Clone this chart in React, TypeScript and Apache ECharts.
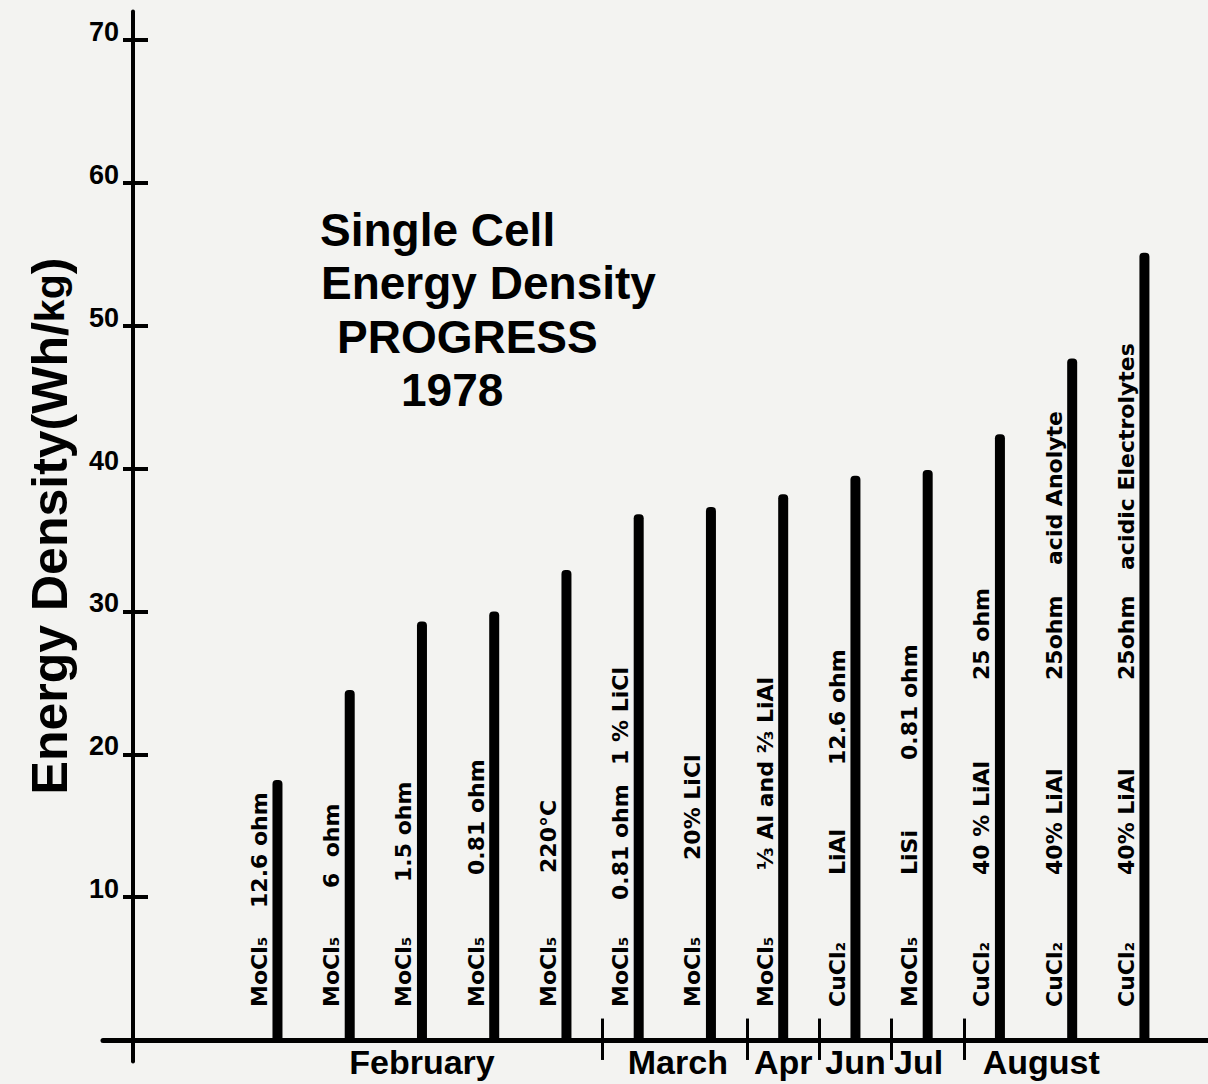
import React, { useEffect, useRef } from 'react';
import * as echarts from 'echarts';

// ---- data ----
const values = [18.2, 24.5, 29.3, 30.0, 32.9, 36.8, 37.3, 38.2, 39.5, 39.9, 42.4, 47.7, 55.1];
const compounds = ['MoCl₅', 'MoCl₅', 'MoCl₅', 'MoCl₅', 'MoCl₅', 'MoCl₅', 'MoCl₅', 'MoCl₅', 'CuCl₂', 'MoCl₅', 'CuCl₂', 'CuCl₂', 'CuCl₂'];
const conditions = ['12.6 ohm', '6  ohm', '1.5 ohm', '0.81 ohm', '220°C', '0.81 ohm', '20% LiCl', '⅓ Al and ⅔ LiAl', 'LiAl', 'LiSi', '40 % LiAl', '40% LiAl', '40% LiAl'];
const details = ['', '', '', '', '', '1 % LiCl', '', '', '12.6 ohm', '0.81 ohm', '25 ohm', '25ohm', '25ohm'];
const extras = ['', '', '', '', '', '', '', '', '', '', '', 'acid Anolyte', 'acidic Electrolytes'];
const months = ['February', 'March', 'Apr', 'Jun', 'Jul', 'August'];
const monthFirstBar = [0, 5, 7, 8, 9, 10];
const monthLastBar = [4, 6, 7, 8, 9, 12];
const yTicks = [10, 20, 30, 40, 50, 60, 70];
const titleLines = ['Single Cell', 'Energy Density', 'PROGRESS', '1978'];

// ---- layout (pixels) ----
const compoundRise = 33;
const conditionRise = [132, 152, 158, 165, 167, 140, 180, 170, 165, 165, 165, 165, 165];
const detailRise = [0, 0, 0, 0, 0, 275, 0, 0, 275, 280, 360, 360, 360];
const extraRise = [0, 0, 0, 0, 0, 0, 0, 0, 0, 0, 0, 475, 470];
const monthNudge = [0, 3, 0, 0, -9, -31];
const titleX = [320, 321, 337, 401];
const titleTop = [207, 260, 314, 367];

const barFont = '"DejaVu Sans", sans-serif';
const mainFont = '"Liberation Sans", Arial, sans-serif';

export default function App() {
  const ref = useRef<HTMLDivElement>(null);
  useEffect(() => {
    const chart = echarts.init(ref.current!, null, { renderer: 'svg' });
    const dividerData = monthFirstBar.slice(1).map((b) => {
      const x = b + 2 - 0.5;
      return [{ coord: [x, -1.4] }, { coord: [x, 1.5] }];
    });
    const option: any = {
      animation: false,
      backgroundColor: '#f3f3f1',
      grid: { left: 103, right: 0, top: 11.4, bottom: 22.6, containLabel: false },
      xAxis: {
        type: 'value',
        min: -0.415,
        max: 14.88,
        axisLine: { show: true, onZero: true, lineStyle: { color: '#000', width: 5 } },
        axisTick: { show: false },
        axisLabel: { show: false },
        splitLine: { show: false },
      },
      yAxis: [
        {
          type: 'value',
          position: 'left',
          min: -1.5,
          max: 72,
          axisLine: { show: true, onZero: true, lineStyle: { color: '#000', width: 4 } },
          axisTick: { show: true, inside: true, length: 15, customValues: yTicks, lineStyle: { color: '#000', width: 4 } },
          axisLabel: {
            customValues: yTicks,
            margin: -16,
            fontSize: 27,
            fontWeight: 'bold',
            fontFamily: mainFont,
            color: '#000',
            verticalAlign: 'bottom',
            lineHeight: 16,
          },
          splitLine: { show: false },
        },
        {
          type: 'value',
          position: 'left',
          offset: -30,
          min: -1.5,
          max: 72,
          axisLine: { show: false, onZero: false },
          axisTick: { show: true, inside: false, length: 10, customValues: yTicks, lineStyle: { color: '#000', width: 4 } },
          axisLabel: { show: false },
          splitLine: { show: false },
        },
      ],
      series: [
        {
          type: 'bar',
          xAxisIndex: 0,
          yAxisIndex: 0,
          data: values.map((v, i) => [i + 2, v]),
          barWidth: 10,
          itemStyle: { color: '#000', borderRadius: [4, 4, 0, 0] },
          z: 3,
          markLine: {
            silent: true,
            symbol: 'none',
            label: { show: false },
            lineStyle: { color: '#000', width: 3, type: 'solid' },
            data: dividerData,
          },
        },
        {
          type: 'custom',
          coordinateSystem: 'cartesian2d',
          clip: false,
          silent: true,
          z: 4,
          data: values.map((v, i) => [i + 2, 0]),
          renderItem: (params: any, api: any) => {
            const i = params.dataIndex;
            const base = api.coord([api.value(0), 0]);
            const segs: [string, number][] = [
              [compounds[i], compoundRise],
              [conditions[i], conditionRise[i]],
              [details[i], detailRise[i]],
              [extras[i], extraRise[i]],
            ];
            const children: any[] = [];
            segs.forEach(([t, rise]) => {
              if (!t) return;
              children.push({
                type: 'text',
                x: base[0] - 18,
                y: base[1] - rise,
                rotation: Math.PI / 2,
                style: {
                  text: t,
                  fill: '#000',
                  fontSize: 22,
                  fontWeight: 'bold',
                  fontFamily: barFont,
                  align: 'left',
                  verticalAlign: 'middle',
                },
              });
            });
            return { type: 'group', children };
          },
        },
        {
          type: 'custom',
          coordinateSystem: 'cartesian2d',
          clip: false,
          silent: true,
          data: months.map((m, k) => [(monthFirstBar[k] + monthLastBar[k]) / 2 + 2, 0]),
          renderItem: (params: any, api: any) => {
            const k = params.dataIndex;
            const base = api.coord([api.value(0), 0]);
            return {
              type: 'text',
              x: base[0] + monthNudge[k],
              y: base[1] + 22,
              style: {
                text: months[k],
                fill: '#000',
                fontSize: 34,
                fontWeight: 'bold',
                fontFamily: mainFont,
                align: 'center',
                verticalAlign: 'middle',
              },
            };
          },
        },
      ],
      graphic: [
        ...titleLines.map((t, k) => ({
          type: 'text',
          left: titleX[k],
          top: titleTop[k],
          style: { text: t, fill: '#000', fontSize: 46, fontWeight: 'bold', fontFamily: mainFont },
        })),
        {
          type: 'text',
          x: 50,
          y: 526,
          rotation: Math.PI / 2,
          style: {
            text: '{a|Energy Density(Wh}{b|/}{c|kg}{a|)}',
            rich: {
              a: { fontSize: 50, fontFamily: mainFont, fill: '#000', fontWeight: 'bold' },
              b: { fontSize: 50, fontFamily: mainFont, fill: '#000', fontWeight: 'bold' },
              c: { fontSize: 41, fontFamily: mainFont, fill: '#000', fontWeight: 'bold' },
            },
            align: 'center',
            verticalAlign: 'middle',
          },
        },
      ],
    };
    chart.setOption(option);
    return () => chart.dispose();
  }, []);
  return <div ref={ref} style={{ position: 'fixed', left: 0, top: 0, width: 1208, height: 1084 }} />;
}
